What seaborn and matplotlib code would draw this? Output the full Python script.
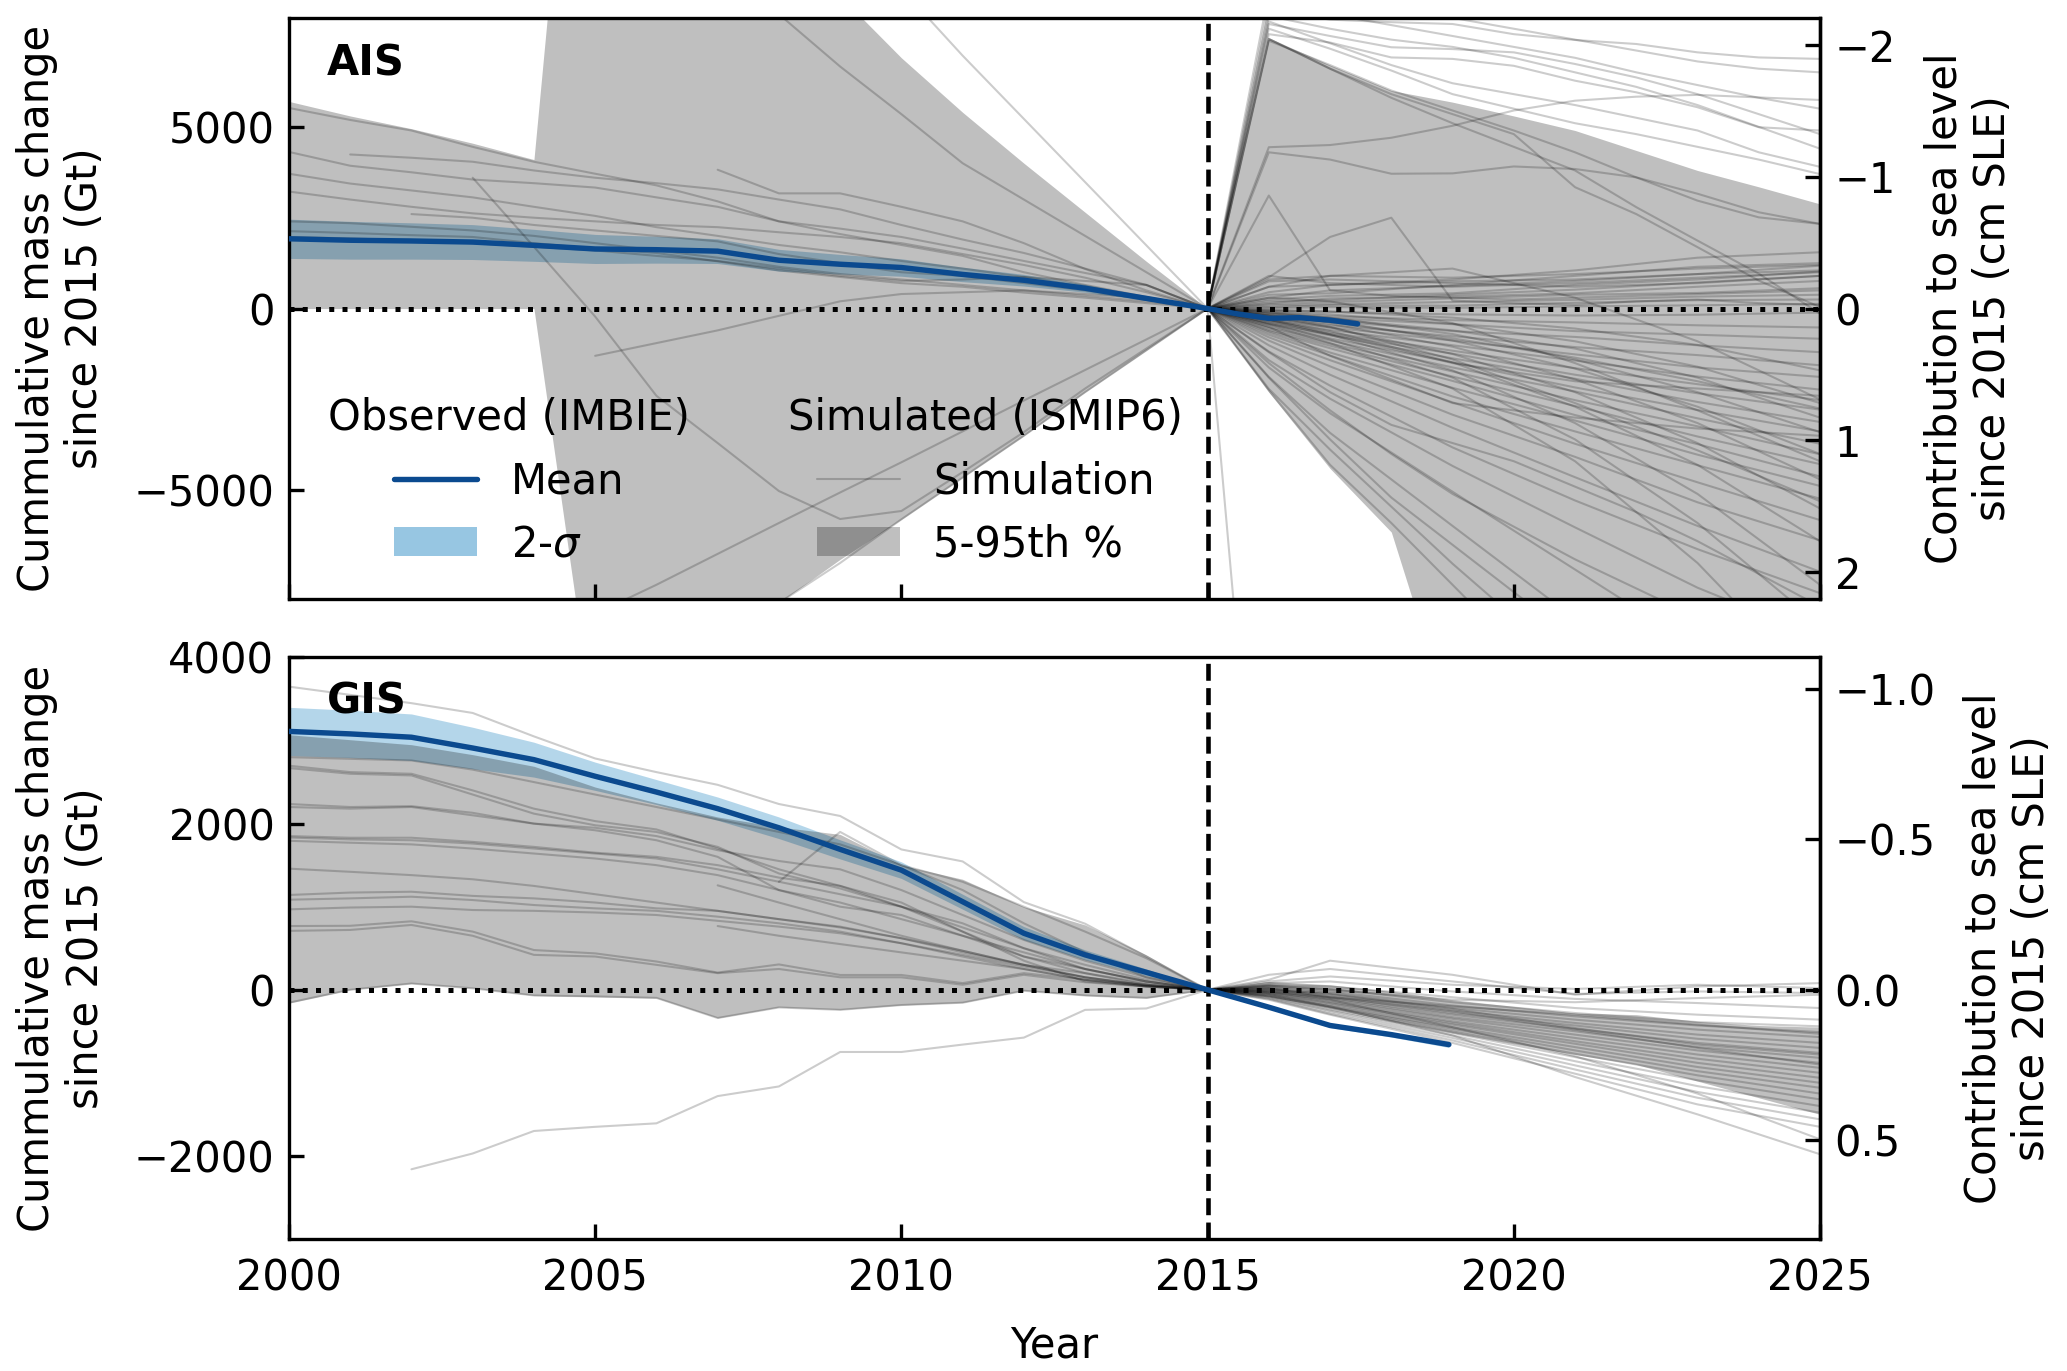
import numpy as np
import pandas as pd
import matplotlib
matplotlib.use("Agg")
import matplotlib.pyplot as plt
import seaborn as sns
from matplotlib.lines import Line2D
from matplotlib.patches import Patch

nan = np.nan
GT_PER_CM = 3625.0  # 362.5 Gt of ice = 1 mm of sea level

# ---------------- shared year grids ----------------
hist_years = list(range(2000, 2016))
proj_years = list(range(2015, 2026))
fan_years = [2015, 2016, 2017, 2019, 2021, 2023, 2025]

# ---------------- AIS ----------------
ais_obs_years = list(range(2000, 2016)) + [2015.5, 2016, 2016.5, 2017, 2017.45]
ais_obs_mean = [1920, 1880, 1860, 1830, 1740, 1640, 1620, 1580, 1330, 1220, 1130,
                940, 780, 560, 280, 0, -150, -270, -250, -320, -420]
ais_obs_2sigma = [540, 520, 500, 480, 440, 400, 370, 340, 300, 270, 240,
                  200, 160, 110, 60, 0, 30, 40, 50, 60, 70]

ais_hist_lo = [0, 0, 0, 0, 0, -11800, -11000, -9600, -8100, -6900, -5800, -4650, -3500, -2300, -1150, 0]
ais_hist_hi = [5700, 5300, 4950, 4550, 4100, 22000, 20000, 16000, 12000, 8600, 6900, 5400, 4000, 2650, 1300, 0]
ais_proj_lo = [0, -2300, -4400, -6150, -11500, -14000, -16000, -17500, -19000, -20500, -22000]
ais_proj_hi = [0, 7450, 6700, 6000, 5680, 5300, 4900, 4350, 3800, 3350, 2880]

ais_hist_runs = [
    [5520, 5190, 4900, 4450, 4040, 3710, 3390, 2950, 2400, 2050, 1750, 1450, 1000, 650, 320, 0],
    [4310, 3930, 3750, 3550, 3450, 3330, 3060, 2800, 2400, 2200, 1970, 1650, 1310, 980, 650, 0],
    [3710, 3440, 3250, 3060, 2800, 2550, 2240, 2000, 1750, 1550, 1310, 1100, 870, 600, 300, 0],
    [3220, 3000, 2800, 2620, 2500, 2400, 2300, 2240, 2100, 1970, 1800, 1500, 1200, 850, 450, 0],
    [nan, 4240, 4150, 4040, 3800, 3600, 3450, 3280, 3000, 2730, 2300, 1900, 1530, 1100, 650, 0],
    [nan, nan, nan, nan, nan, nan, nan, 3820, 3170, 3170, 2800, 2400, 1800, 1090, 500, 0],
    [nan, nan, nan, 3600, 1700, -220, -2400, -3700, -5020, -5790, -5570, -4500, -3400, -2200, -1100, 0],
    [nan, nan, nan, nan, nan, -1300, -950, -600, -200, 200, 400, 450, 500, 400, 300, 0],
    [nan, nan, nan, nan, nan, 12000, 10800, 9500, 8100, 6660, 5350, 4000, 3000, 2000, 1000, 0],
    [nan, nan, nan, nan, nan, nan, nan, 12700, 11300, 10500, 8800, 6960, 5220, 3480, 1740, 0],
    [nan, nan, nan, nan, -10000, -8400, -7600, -6750, -5900, -5060, -4230, -3380, -2530, -1690, -850, 0],
    [nan, nan, nan, nan, -14000, -12000, -10500, -9300, -8100, -7000, -5800, -4650, -3500, -2300, -1150, 0],
    [2130, 2080, 2020, 1970, 1800, 1650, 1530, 1300, 1050, 870, 700, 600, 440, 300, 150, 0],
    [1970, 1930, 1870, 1800, 1700, 1600, 1450, 1310, 1100, 900, 760, 800, 870, 760, 650, 0],
    [nan, nan, 2600, 2500, 2300, 2150, 2000, 1850, 1500, 1250, 1000, 900, 700, 500, 250, 0],
    [2400, 2350, 2250, 2150, 2000, 1800, 1600, 1400, 1150, 950, 800, 650, 500, 350, 200, 0],
]

ais_proj_runs = [
    [0, 8200, 7950, 7880, 7830, 7550, 7390, 7280, 7050, 6910, 6870],
    [0, 7830, 7500, 7190, 7140, 7050, 6730, 6360, 5900, 5350, 4800],
    [0, 7550, 7320, 6910, 6870, 6680, 6270, 5950, 5540, 4990, 4900],
    [0, 8400, 8100, 7800, 7500, 7200, 6900, 6500, 6150, 5800, 5500],
    [0, 7900, 7300, 6700, 6200, 5900, 5600, 5250, 4900, 4300, 3900],
    [0, 7700, 7150, 6550, 5900, 5500, 5100, 4800, 4450, 4100, 3700],
    [0, 8700, 8500, 8300, 8000, 7700, 7400, 7100, 6800, 6600, 6500],
    [0, 8050, 7700, 7400, 7200, 6900, 6500, 6100, 5600, 5000, 4400],
    [0, 4440, 4500, 4700, 5030, 5450, 5720, 5830, 5880, 5810, 5740],
    [0, 4300, 4100, 3710, 3720, 3910, 3840, 3610, 3160, 2650, 2330],
    [0, 3110, 500, 350, 300, 250, 300, 350, 400, 450, 500],
    [0, 860, 1970, 2500, 220, 150, 100, 200, 250, 150, 100],
    [0, 7420, 6600, 5900, 5350, 4800, 3340, 2600, 1690, 770, 40],
    [0, 7370, 6700, 6000, 5450, 4900, 4300, 3610, 2970, 2510, 2330],
    [0, 7420, 6600, 5800, 5100, 4450, 3800, 2790, 1870, 960, -140],
    [0, -19000, nan, nan, nan, nan, nan, nan, nan, nan, nan],
    [0, -2250, -4300, -5900, -7600, -9300, nan, nan, nan, nan, nan],
    [0, -1900, -3600, -5200, -6500, -7800, -9100, nan, nan, nan, nan],
    [0, -1500, -2800, -4000, -5100, -6000, -6900, -7700, -8500, nan, nan],
    [0, -1200, -2300, -3200, -3700, -4200, -4900, -5600, -6400, -7300, -8200],
]

ais_fan_runs = [
    [0, 450, 650, 800, 1050, 1400, 1550],
    [0, 380, 420, 650, 900, 1150, 1250],
    [0, 300, 500, 620, 760, 950, 1180],
    [0, 250, 350, 420, 650, 800, 1020],
    [0, 200, 230, 380, 520, 720, 900],
    [0, 150, 280, 330, 420, 600, 760],
    [0, 120, 180, 280, 380, 430, 560],
    [0, 80, 120, 180, 240, 330, 380],
    [0, 40, 90, 80, 160, 230, 250],
    [0, 10, 40, 20, 60, 90, 130],
    [0, 800, 900, 850, 950, 1100, 1200],
    [0, 900, 700, 600, 700, 850, 1000],
    [0, 750, 800, 700, 600, 700, 900],
    [0, 600, 650, 750, 800, 950, 1050],
    [0, -50, -90, -160, -190, -170, -110],
    [0, -90, -210, -320, -380, -460, -520],
    [0, -140, -260, -430, -620, -720, -830],
    [0, -190, -340, -620, -780, -1010, -1200],
    [0, -240, -460, -760, -1060, -1280, -1560],
    [0, -290, -520, -880, -1260, -1620, -1880],
    [0, -320, -590, -1010, -1430, -1870, -2230],
    [0, -340, -660, -1160, -1640, -2080, -2520],
    [0, -390, -710, -1240, -1820, -2330, -2780],
    [0, -420, -740, -1370, -1930, -2570, -3120],
    [0, -440, -820, -1480, -2170, -2790, -3380],
    [0, -510, -880, -1620, -2280, -3020, -3720],
    [0, -540, -960, -1730, -2520, -3240, -4010],
    [0, -590, -1020, -1870, -2680, -3520, -4280],
    [0, -620, -1090, -1990, -2930, -3730, -4620],
    [0, -660, -1210, -2180, -3080, -4020, -4880],
    [0, -720, -1290, -2420, -3380, -4310, -5230],
    [0, -790, -1420, -2580, -3720, -4780, -5820],
    [0, -880, -1590, -2920, -4080, -5330, -6380],
    [0, -1010, -1820, -3280, -4640, -5980, -7240],
    [0, -1180, -2120, -3820, -5280, -6620, -7830],
    [0, -1420, -2480, -4330, -6020, -7680, -9050],
    [0, -1620, -2880, -5040, -7180, -9320, -11000],
    [0, -1880, -3420, -5980, -8530, -10900, -13100],
    [0, -2210, -3880, -7020, -9950, -12600, -15000],
    [0, -300, -700, -1500, -2000, -2200, -2400],
    [0, -500, -1300, -2600, -3000, -3300, -3500],
    [0, -200, -500, -1400, -2600, -3900, -5300],
    [0, 300, 200, -400, -1500, -2800, -4200],
    [0, 600, 900, 1100, 300, -900, -2500],
    [0, -100, -250, -700, -1400, -2300, -3400],
    [0, -150, -330, -880, -1650, -2700, -4000],
    [0, -200, -420, -1050, -1950, -3150, -4700],
    [0, -250, -520, -1250, -2300, -3700, -5500],
    [0, -300, -620, -1480, -2700, -4300, -6400],
    [0, -350, -720, -1700, -3150, -5100, -7600],
    [0, -60, -160, -420, -900, -1600, -2600],
    [0, -120, -280, -600, -1100, -1900, -3000],
    [0, -400, -850, -1900, -3600, -5900, -8700],
    [0, -450, -950, -2200, -4200, -7000, -10500],
    [0, -30, -80, -250, -550, -1000, -1700],
    [0, -180, -380, -820, -1350, -2000, -2750],
]

# ---------------- GIS ----------------
gis_obs_years = list(range(2000, 2016)) + [2016, 2017, 2018, 2018.94]
gis_obs_mean = [3110, 3080, 3040, 2910, 2770, 2570, 2380, 2180, 1950, 1690, 1440,
                1060, 680, 420, 210, 0, -210, -430, -540, -660]
gis_obs_2sigma = [290, 285, 280, 250, 210, 170, 150, 140, 130, 115, 100,
                  90, 80, 60, 40, 0, 20, 25, 30, 35]

gis_hist_lo = [-160, 0, 75, 20, -70, -85, -100, -340, -210, -240, -185, -155, -10, -70, -100, 0]
gis_hist_hi = [3070, 3010, 2950, 2830, 2690, 2440, 2250, 2080, 1960, 1870, 1500, 1330, 1000, 780, 420, 0]
gis_proj_lo = [0, -80, -220, -380, -520, -650, -780, -900, -1100, -1300, -1500]
gis_proj_hi = [0, 100, 60, -20, -120, -200, -280, -300, -380, -430, -450]

gis_hist_runs = [
    [2800, 2780, 2760, 2650, 2500, 2350, 2200, 2050, 1900, 1750, 1500, 1300, 1000, 700, 380, 0],
    [2697, 2620, 2600, 2400, 2180, 2030, 1930, 1700, 1450, 1250, 1050, 700, 400, 200, 80, 0],
    [2669, 2600, 2580, 2350, 2120, 1980, 1900, 1720, 1400, 1220, 1000, 800, 500, 250, 100, 0],
    [2236, 2200, 2210, 2130, 2000, 1950, 1850, 1680, 1550, 1450, 1200, 900, 600, 350, 150, 0],
    [1833, 1810, 1800, 1760, 1700, 1640, 1580, 1450, 1300, 1150, 1000, 750, 500, 300, 120, 0],
    [1793, 1770, 1750, 1700, 1640, 1580, 1500, 1380, 1200, 1050, 850, 650, 450, 250, 100, 0],
    [1458, 1420, 1380, 1330, 1250, 1150, 1050, 950, 850, 750, 620, 450, 300, 150, 50, 0],
    [1141, 1170, 1180, 1130, 1100, 1050, 980, 950, 850, 760, 620, 470, 300, 200, 60, 0],
    [1084, 1100, 1120, 1080, 1020, 980, 950, 880, 800, 700, 560, 420, 280, 150, 50, 0],
    [968, 990, 1000, 960, 950, 930, 900, 830, 760, 680, 560, 400, 250, 120, 40, 0],
    [767, 770, 824, 700, 478, 438, 340, 207, 305, 178, 178, 80, 200, 120, 60, 0],
    [709, 720, 780, 650, 420, 400, 300, 200, 250, 150, 150, 60, 180, 90, 40, 0],
    [-156, 0, 75, 17, -69, -80, -98, -340, -213, -242, -184, -156, -12, -69, -98, 0],
    [3649, 3550, 3450, 3332, 3050, 2784, 2620, 2467, 2236, 2092, 1689, 1545, 1055, 795, 400, 0],
    [nan, nan, -2161, -1971, -1700, -1650, -1608, -1280, -1164, -749, -749, -660, -576, -242, -225, 0],
    [nan, nan, nan, nan, nan, nan, nan, nan, 1300, 1900, 1500, 1200, 800, 450, 150, 0],
    [nan, nan, nan, nan, nan, nan, nan, 1257, 1050, 850, 650, 470, 300, 150, 60, 0],
    [nan, nan, nan, nan, nan, nan, nan, 767, 650, 550, 450, 350, 250, 120, 40, 0],
    [2200, 2180, 2200, 2100, 2000, 1920, 1800, 1600, 1200, 1000, 900, 650, 400, 250, 100, 0],
    [1850, 1830, 1830, 1780, 1720, 1650, 1600, 1500, 1350, 1250, 1000, 700, 350, 100, 40, 0],
]

gis_fan_runs = [
    [0, 100, 160, 60, 10, 60, 20],
    [0, 120, 350, 180, -60, 40, 80],
    [0, 180, 250, 100, -50, -20, -40],
    [0, 80, 100, -20, -110, -160, -220],
    [0, 60, 40, -90, -220, -300, -360],
    [0, 50, 10, -150, -280, -390, -440],
    [0, 40, -20, -190, -320, -430, -510],
    [0, 30, -40, -220, -360, -480, -570],
    [0, 20, -60, -250, -400, -540, -640],
    [0, 10, -80, -280, -430, -590, -700],
    [0, 0, -100, -300, -470, -640, -760],
    [0, -10, -110, -330, -500, -690, -820],
    [0, -20, -130, -350, -540, -730, -880],
    [0, -30, -150, -380, -580, -780, -940],
    [0, -40, -160, -400, -620, -830, -1000],
    [0, -50, -180, -420, -650, -880, -1060],
    [0, -50, -200, -450, -690, -930, -1120],
    [0, -60, -210, -470, -730, -980, -1180],
    [0, -70, -220, -500, -770, -1030, -1250],
    [0, -80, -240, -520, -810, -1090, -1320],
    [0, -90, -250, -550, -860, -1160, -1400],
    [0, -100, -270, -580, -910, -1230, -1480],
    [0, -110, -290, -610, -960, -1300, -1560],
    [0, -120, -300, -640, -1010, -1380, -1650],
    [0, -80, -200, -550, -1050, -1500, -1980],
    [0, -30, -120, -450, -800, -1250, -1800],
    [0, 50, 0, -120, -150, -100, -60],
    [0, 20, -90, -200, -300, -420, -530],
    [0, -20, -90, -260, -480, -700, -900],
    [0, 0, -50, -230, -460, -660, -780],
]

# ---------------- style ----------------
MEAN_COLOR = "#0b4a8f"
SIGMA_COLOR = "#6baed6"

sns.set_style("ticks")
plt.rcParams.update({
    "font.family": ["DejaVu Sans"],
    "font.size": 10,
    "axes.labelsize": 10,
    "xtick.labelsize": 10,
    "ytick.labelsize": 10,
    "legend.fontsize": 10,
    "axes.edgecolor": "k",
    "axes.labelcolor": "k",
    "text.color": "k",
    "xtick.color": "k",
    "ytick.color": "k",
    "xtick.direction": "in",
    "ytick.direction": "in",
    "axes.linewidth": 0.8,
})


def long_frame(years, runs, start=0):
    rows = []
    for i, vals in enumerate(runs):
        for yr, v in zip(years, vals):
            if not np.isnan(v):
                rows.append((start + i, yr, v))
    return pd.DataFrame(rows, columns=["run", "year", "mass"])


def gt_to_cm(g):
    return -np.asarray(g) / GT_PER_CM


def cm_to_gt(c):
    return -np.asarray(c) * GT_PER_CM


def draw_panel(ax, obs_years, obs_mean, obs_2s, hist_lo, hist_hi, proj_lo, proj_hi,
               sim_frame):
    mean = np.array(obs_mean, dtype=float)
    s2 = np.array(obs_2s, dtype=float)
    ax.fill_between(obs_years, mean - s2, mean + s2, color=SIGMA_COLOR, alpha=0.5,
                    lw=0, zorder=1)
    ax.fill_between(hist_years, hist_lo, hist_hi, color="k", alpha=0.25, lw=0, zorder=1.5)
    ax.fill_between(proj_years, proj_lo, proj_hi, color="k", alpha=0.25, lw=0, zorder=1.5)
    sns.lineplot(data=sim_frame, x="year", y="mass", units="run", estimator=None,
                 color="k", alpha=0.2, lw=0.5, ax=ax, legend=False, zorder=2)
    ax.axhline(0, color="k", ls=":", lw=1.2, zorder=2.8)
    ax.axvline(2015, color="k", ls="--", lw=1.1, zorder=2.9)
    sns.lineplot(x=obs_years, y=obs_mean, color=MEAN_COLOR, lw=1.3, ax=ax, zorder=3)
    ax.set_xlim(2000, 2025)
    ax.set_xticks([2000, 2005, 2010, 2015, 2020, 2025])
    ax.set_ylabel("Cummulative mass change\nsince 2015 (Gt)", labelpad=6.5)
    ax.tick_params(top=False, right=False, length=3.5, width=0.8)
    sec = ax.secondary_yaxis("right", functions=(gt_to_cm, cm_to_gt))
    sec.tick_params(direction="in", length=3.5, width=0.8)
    sec.set_ylabel("Contribution to sea level\nsince 2015 (cm SLE)", labelpad=6.5)
    return sec


fig, (ax1, ax2) = plt.subplots(2, 1, figsize=(6.89, 4.57), dpi=300, sharex=True)
fig.subplots_adjust(left=0.1398, right=0.8805, top=0.987, bottom=0.0963, hspace=0.1)

# AIS
ais_sims = pd.concat([
    long_frame(hist_years, ais_hist_runs, 0),
    long_frame(proj_years, ais_proj_runs, 100),
    long_frame(fan_years, ais_fan_runs, 200),
], ignore_index=True)
sec1 = draw_panel(ax1, ais_obs_years, ais_obs_mean, ais_obs_2sigma, ais_hist_lo, ais_hist_hi,
                  ais_proj_lo, ais_proj_hi, ais_sims)
ax1.set_ylim(-8000, 8000)
ax1.set_yticks([-5000, 0, 5000])
sec1.set_yticks([-2, -1, 0, 1, 2])
ax1.tick_params(labelbottom=False)
ax1.set_xlabel("")
ax1.text(0.025, 0.922, "AIS", transform=ax1.transAxes, fontweight="bold",
         ha="left", va="center")

# GIS
gis_sims = pd.concat([
    long_frame(hist_years, gis_hist_runs, 0),
    long_frame(fan_years, gis_fan_runs, 200),
], ignore_index=True)
sec2 = draw_panel(ax2, gis_obs_years, gis_obs_mean, gis_obs_2sigma, gis_hist_lo, gis_hist_hi,
                  gis_proj_lo, gis_proj_hi, gis_sims)
ax2.set_ylim(-3000, 4000)
ax2.set_yticks([-2000, 0, 2000, 4000])
sec2.set_yticks([-1.0, -0.5, 0.0, 0.5])
ax2.set_xlabel("Year", labelpad=6)
ax2.tick_params(axis="x", pad=4.5)
ax2.text(0.025, 0.925, "GIS", transform=ax2.transAxes, fontweight="bold",
         ha="left", va="center")

# legends
obs_handles = [Line2D([], [], color=MEAN_COLOR, lw=1.3),
               Patch(facecolor=SIGMA_COLOR, alpha=0.7, lw=0)]
sim_handles = [Line2D([], [], color="k", alpha=0.2, lw=0.5),
               Patch(facecolor="k", alpha=0.25, lw=0)]
leg1 = ax1.legend(obs_handles, ["Mean", "2-$\\sigma$"], title="Observed (IMBIE)",
                  loc="upper center", bbox_to_anchor=(0.1437, 0.376), frameon=False,
                  borderaxespad=0, title_fontsize=10)
ax1.add_artist(leg1)
ax1.legend(sim_handles, ["Simulation", "5-95th %"], title="Simulated (ISMIP6)",
           loc="upper center", bbox_to_anchor=(0.455, 0.376), frameon=False,
           borderaxespad=0, title_fontsize=10)

fig.savefig("out.png", dpi=300)
